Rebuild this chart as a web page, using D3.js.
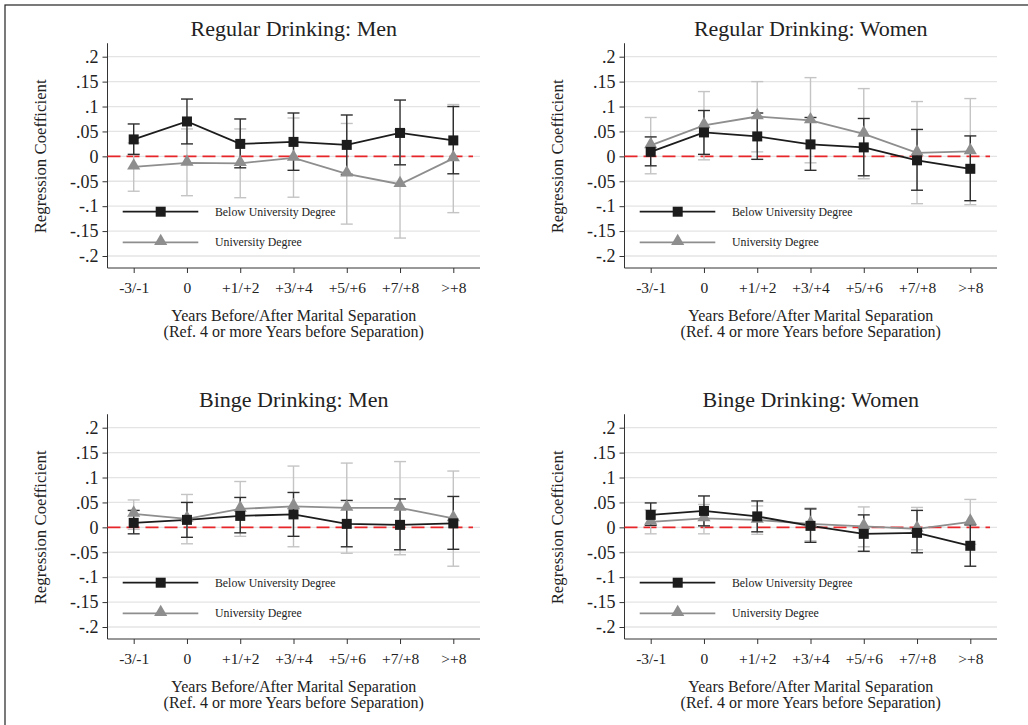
<!DOCTYPE html>
<html>
<head>
<meta charset="utf-8">
<script src="https://cdn.jsdelivr.net/npm/d3@7"></script>
<style>
  body { margin: 0; background: #fff; }
  text { font-family: "Liberation Serif", "Times New Roman", serif; fill: #222; }
</style>
</head>
<body>
<svg width="1028" height="725"></svg>
<script>
const categories = ["-3/-1", "0", "+1/+2", "+3/+4", "+5/+6", "+7/+8", ">+8"];
const yTicks = [-0.2, -0.15, -0.1, -0.05, 0, 0.05, 0.1, 0.15, 0.2];
const yTickLabels = ["-.2", "-.15", "-.1", "-.05", "0", ".05", ".1", ".15", ".2"];
const seriesNames = ["Below University Degree", "University Degree"];

// Regular drinking: men
const regMenBelow = [0.034, 0.070, 0.025, 0.029, 0.023, 0.047, 0.032];
const regMenBelowLo = [0.004, 0.025, -0.023, -0.028, -0.036, -0.017, -0.035];
const regMenBelowHi = [0.065, 0.115, 0.075, 0.087, 0.083, 0.113, 0.100];
const regMenUni = [-0.021, -0.013, -0.014, -0.003, -0.035, -0.056, -0.004];
const regMenUniLo = [-0.070, -0.079, -0.083, -0.082, -0.136, -0.164, -0.113];
const regMenUniHi = [0.027, 0.055, 0.055, 0.077, 0.066, 0.053, 0.104];

// Regular drinking: women
const regWomenBelow = [0.009, 0.048, 0.040, 0.024, 0.018, -0.008, -0.025];
const regWomenBelowLo = [-0.019, 0.004, -0.006, -0.028, -0.039, -0.068, -0.089];
const regWomenBelowHi = [0.039, 0.092, 0.087, 0.078, 0.076, 0.054, 0.041];
const regWomenUni = [0.022, 0.062, 0.080, 0.072, 0.045, 0.007, 0.010];
const regWomenUniLo = [-0.035, -0.007, 0.009, -0.013, -0.045, -0.095, -0.097];
const regWomenUniHi = [0.078, 0.130, 0.150, 0.158, 0.136, 0.110, 0.116];

// Binge drinking: men
const bingeMenBelow = [0.009, 0.015, 0.023, 0.026, 0.007, 0.005, 0.008];
const bingeMenBelowLo = [-0.013, -0.020, -0.011, -0.018, -0.039, -0.045, -0.044];
const bingeMenBelowHi = [0.034, 0.050, 0.060, 0.070, 0.054, 0.057, 0.062];
const bingeMenUni = [0.027, 0.017, 0.037, 0.042, 0.039, 0.039, 0.018];
const bingeMenUniLo = [-0.004, -0.033, -0.018, -0.039, -0.052, -0.055, -0.078];
const bingeMenUniHi = [0.055, 0.066, 0.092, 0.123, 0.129, 0.132, 0.113];

// Binge drinking: women
const bingeWomenBelow = [0.025, 0.033, 0.022, 0.003, -0.013, -0.011, -0.037];
const bingeWomenBelowLo = [0.004, 0.003, -0.009, -0.030, -0.048, -0.051, -0.078];
const bingeWomenBelowHi = [0.049, 0.063, 0.053, 0.037, 0.025, 0.034, 0.005];
const bingeWomenUni = [0.011, 0.018, 0.015, 0.007, 0.002, -0.003, 0.011];
const bingeWomenUniLo = [-0.013, -0.013, -0.014, -0.027, -0.039, -0.045, -0.034];
const bingeWomenUniHi = [0.035, 0.046, 0.043, 0.039, 0.041, 0.040, 0.056];

const panels = [
  { title: "Regular Drinking: Men", dx: 0, dy: 0,
    below: [regMenBelow, regMenBelowLo, regMenBelowHi], uni: [regMenUni, regMenUniLo, regMenUniHi] },
  { title: "Regular Drinking: Women", dx: 517, dy: 0,
    below: [regWomenBelow, regWomenBelowLo, regWomenBelowHi], uni: [regWomenUni, regWomenUniLo, regWomenUniHi] },
  { title: "Binge Drinking: Men", dx: 0, dy: 371,
    below: [bingeMenBelow, bingeMenBelowLo, bingeMenBelowHi], uni: [bingeMenUni, bingeMenUniLo, bingeMenUniHi] },
  { title: "Binge Drinking: Women", dx: 517, dy: 371,
    below: [bingeWomenBelow, bingeWomenBelowLo, bingeWomenBelowHi], uni: [bingeWomenUni, bingeWomenUniLo, bingeWomenUniHi] }
];

const svg = d3.select("svg");
svg.append("rect").attr("width", 1028).attr("height", 725).attr("fill", "#fff");
// outer frame (runs off the right and bottom edges)
svg.append("rect").attr("x", 5).attr("y", 5).attr("width", 1040).attr("height", 740)
  .attr("fill", "none").attr("stroke", "#222").attr("stroke-width", 1.2);

const blackCol = "#1c1c1c", blackCi = "#2e2e2e";
const grayCol = "#8e8e8e", grayCi = "#c4c4c4";

function drawPanel(p) {
  const left = 107.5 + p.dx, right = 480 + p.dx, bottom = 268 + p.dy;
  const g = svg.append("g");
  const x = d3.scalePoint().domain(categories).range([133.7 + p.dx, 453.3 + p.dx]);
  const y = d3.scaleLinear().domain([-0.2, 0.2]).range([256 + p.dy, 56.7 + p.dy]);

  g.append("text").attr("x", (left + right) / 2).attr("y", 35.5 + p.dy)
    .attr("text-anchor", "middle").attr("font-size", 22).text(p.title);

  // grid
  g.selectAll(".grid").data(yTicks).enter().append("line")
    .attr("x1", left).attr("x2", right)
    .attr("y1", d => y(d)).attr("y2", d => y(d))
    .attr("stroke", "#e4e4e4").attr("stroke-width", 1.3);

  // y axis
  const yAxis = g.append("g").attr("transform", `translate(${left},0)`)
    .call(d3.axisLeft(y).tickValues(yTicks).tickSize(5).tickPadding(4)
      .tickFormat((d, i) => yTickLabels[i]));
  yAxis.attr("font-family", null);
  yAxis.select(".domain").attr("d", `M0,${y(0.227)}V${bottom}`).attr("stroke", "#333");
  yAxis.selectAll(".tick line").attr("stroke", "#333");
  yAxis.selectAll(".tick text").attr("font-size", 18).attr("fill", "#222");

  // x axis
  const xAxis = g.append("g").attr("transform", `translate(0,${bottom})`)
    .call(d3.axisBottom(x).tickSize(5).tickPadding(9));
  xAxis.attr("font-family", null);
  xAxis.select(".domain").attr("d", `M${left},0H${right}`).attr("stroke", "#333");
  xAxis.selectAll(".tick line").attr("stroke", "#333");
  xAxis.selectAll(".tick text").attr("font-size", 15.5).attr("fill", "#222");

  g.append("text").attr("x", 46 + p.dx).attr("y", y(0))
    .attr("transform", `rotate(-90,${46 + p.dx},${y(0)})`)
    .attr("text-anchor", "middle").attr("font-size", 16.8).text("Regression Coefficient");
  g.append("text").attr("x", (left + right) / 2).attr("y", 321 + p.dy)
    .attr("text-anchor", "middle").attr("font-size", 16).text("Years Before/After Marital Separation");
  g.append("text").attr("x", (left + right) / 2).attr("y", 337 + p.dy)
    .attr("text-anchor", "middle").attr("font-size", 16).text("(Ref. 4 or more Years before Separation)");

  // zero reference line
  g.append("line").attr("x1", left).attr("x2", 473 + p.dx)
    .attr("y1", y(0)).attr("y2", y(0))
    .attr("stroke", "#e8262a").attr("stroke-width", 1.6).attr("stroke-dasharray", "13,6");

  function caps(vals, col, w) {
    const rows = categories.map((c, i) => ({ c, lo: vals[1][i], hi: vals[2][i] }));
    const cg = g.append("g").attr("stroke", col).attr("stroke-width", w);
    rows.forEach(r => {
      cg.append("line").attr("x1", x(r.c)).attr("x2", x(r.c)).attr("y1", y(r.lo)).attr("y2", y(r.hi));
      cg.append("line").attr("x1", x(r.c) - 6).attr("x2", x(r.c) + 6).attr("y1", y(r.lo)).attr("y2", y(r.lo));
      cg.append("line").attr("x1", x(r.c) - 6).attr("x2", x(r.c) + 6).attr("y1", y(r.hi)).attr("y2", y(r.hi));
    });
  }
  caps(p.uni, grayCi, 1.4);
  caps(p.below, blackCi, 1.4);

  const line = d3.line().x((d, i) => x(categories[i])).y(d => y(d));
  g.append("path").datum(p.uni[0]).attr("d", line).attr("fill", "none")
    .attr("stroke", grayCol).attr("stroke-width", 1.8);
  g.append("path").datum(p.below[0]).attr("d", line).attr("fill", "none")
    .attr("stroke", blackCol).attr("stroke-width", 1.8);

  const tri = d3.symbol().type(d3.symbolTriangle).size(75);
  g.selectAll(".tri").data(p.uni[0]).enter().append("path")
    .attr("d", tri).attr("fill", grayCol)
    .attr("transform", (d, i) => `translate(${x(categories[i])},${y(d) - 1})`);
  g.selectAll(".sq").data(p.below[0]).enter().append("rect")
    .attr("x", (d, i) => x(categories[i]) - 5).attr("y", d => y(d) - 5)
    .attr("width", 10).attr("height", 10).attr("fill", blackCol);

  // legend
  const ly = [211.7 + p.dy, 242.3 + p.dy];
  const lx1 = 122.7 + p.dx, lx2 = 198.3 + p.dx, lm = 160.7 + p.dx;
  g.append("line").attr("x1", lx1).attr("x2", lx2).attr("y1", ly[0]).attr("y2", ly[0])
    .attr("stroke", blackCol).attr("stroke-width", 1.8);
  g.append("rect").attr("x", lm - 5).attr("y", ly[0] - 5).attr("width", 10).attr("height", 10).attr("fill", blackCol);
  g.append("line").attr("x1", lx1).attr("x2", lx2).attr("y1", ly[1]).attr("y2", ly[1])
    .attr("stroke", grayCol).attr("stroke-width", 1.8);
  g.append("path").attr("d", tri).attr("fill", grayCol).attr("transform", `translate(${lm},${ly[1] - 1})`);
  seriesNames.forEach((s, i) => {
    g.append("text").attr("x", 215 + p.dx).attr("y", ly[i] + 4).attr("font-size", 11.8).text(s);
  });
}

panels.forEach(drawPanel);
</script>
</body>
</html>
